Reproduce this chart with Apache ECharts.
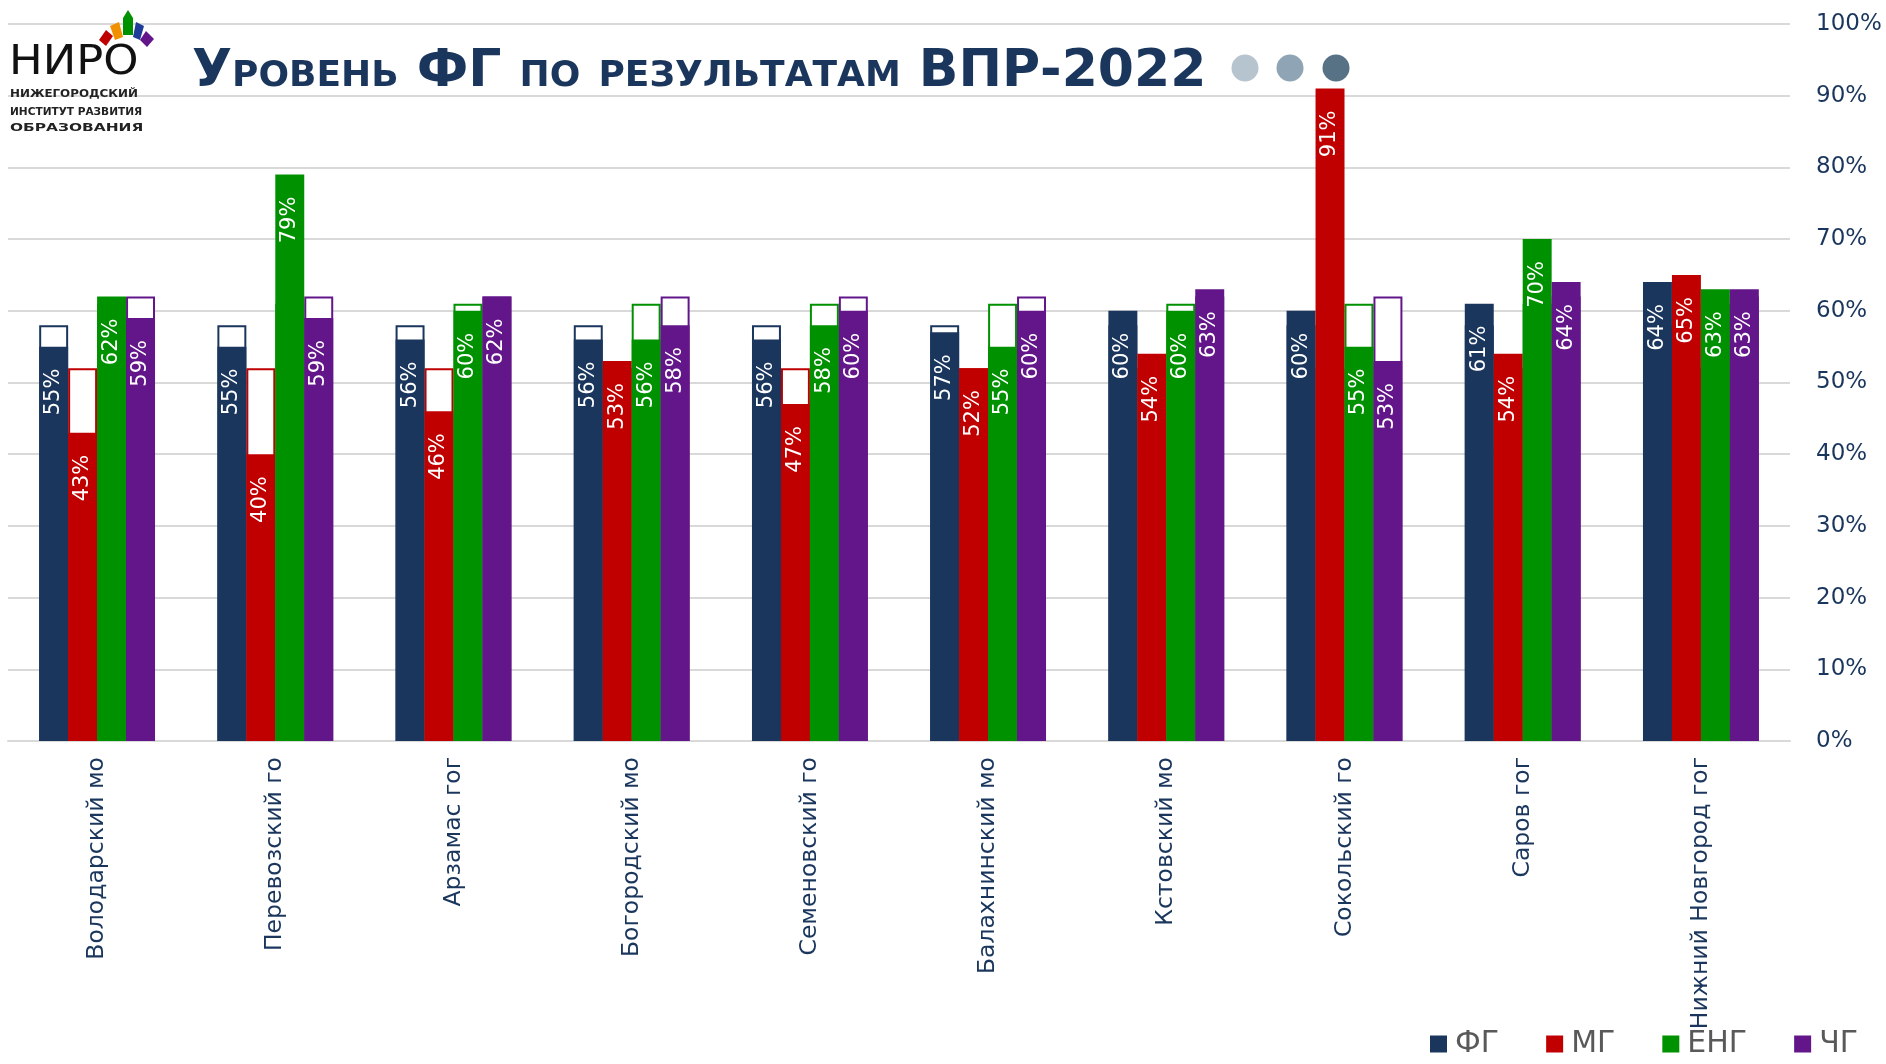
<!DOCTYPE html>
<html>
<head>
<meta charset="utf-8">
<title>Уровень ФГ по результатам ВПР-2022</title>
<script src="https://cdn.jsdelivr.net/npm/echarts@6/dist/echarts.min.js"></script>
<style>
  html, body { margin: 0; padding: 0; background: #fff; }
  #chart { width: 1886px; height: 1064px; }
</style>
</head>
<body>
<div id="chart"></div>
<script>
// municipalities on the x axis
const categories = [
  "Володарский мо",
  "Перевозский го",
  "Арзамас гог",
  "Богородский мо",
  "Семеновский го",
  "Балахнинский мо",
  "Кстовский мо",
  "Сокольский го",
  "Саров гог",
  "Нижний Новгород гог",
];

const seriesNames = ["ФГ", "МГ", "ЕНГ", "ЧГ"];

// results per municipality, %
const fgValues = [55, 55, 56, 56, 56, 57, 60, 60, 61, 64];
const mgValues = [43, 40, 46, 53, 47, 52, 54, 91, 54, 65];
const engValues = [62, 79, 60, 56, 58, 55, 60, 55, 70, 63];
const chgValues = [59, 59, 62, 58, 60, 60, 63, 53, 64, 63];

// regional level for each subject (the hollow boxes), %
const regionLevel = [58, 52, 61, 62];

const colors = ["#1a365d", "#c00000", "#009100", "#631689"];
const navy = "#1a365d";

const allValues = [fgValues, mgValues, engValues, chgValues];

const chart = echarts.init(document.getElementById("chart"));

// hollow boxes: drawn on a hidden twin axis so they sit under the filled bars
const outlineSeries = seriesNames.map((name, i) => ({
  name: name + " (область)",
  type: "bar",
  xAxisIndex: 1,
  barGap: "0%",
  barCategoryGap: "35%",
  silent: true,
  z: 1,
  data: categories.map(() => regionLevel[i]),
  itemStyle: {
    color: "#ffffff",
    borderColor: colors[i],
    borderWidth: 2,
  },
}));

const valueSeries = seriesNames.map((name, i) => ({
  name: name,
  type: "bar",
  xAxisIndex: 0,
  barGap: "0%",
  barCategoryGap: "35%",
  z: 3,
  data: allValues[i],
  itemStyle: { color: colors[i] },
  label: {
    show: true,
    position: "insideTop",
    rotate: 90,
    align: "right",
    verticalAlign: "middle",
    distance: 22,
    color: "#ffffff",
    fontSize: 21,
    fontFamily: "DejaVu Sans",
    formatter: "{c}%",
  },
}));

// logo fan pieces above the "О"
const fan = [
  { c: "#c00000", pts: [[99, 40], [106, 30], [113, 36], [106, 46]] },
  { c: "#f29100", pts: [[110, 26], [119, 22], [123, 37], [115, 40]] },
  { c: "#009100", pts: [[123, 18], [128, 10], [133, 18], [133, 35], [123, 35]] },
  { c: "#1f3c99", pts: [[136, 22], [144, 26], [140, 40], [133, 37]] },
  { c: "#631689", pts: [[146, 31], [154, 39], [147, 47], [140, 40]] },
];

const option = {
  backgroundColor: "#ffffff",
  animation: false,
  textStyle: { fontFamily: "DejaVu Sans" },
  grid: {
    left: 8,
    right: 96,
    top: 24,
    bottom: 323,
    containLabel: false,
  },
  legend: {
    data: seriesNames,
    right: 28,
    bottom: 5,
    padding: 0,
    icon: "rect",
    itemWidth: 17,
    itemHeight: 17,
    itemGap: 47,
    textStyle: {
      color: "#595959",
      fontSize: 30,
      fontFamily: "DejaVu Sans",
      padding: [0, 0, 0, 3],
    },
  },
  xAxis: [
    {
      type: "category",
      data: categories,
      axisLine: { lineStyle: { color: "#d9d9d9", width: 2 } },
      axisTick: { show: false },
      axisLabel: {
        interval: 0,
        rotate: 90,
        margin: 16,
        color: navy,
        fontSize: 23.5,
        fontFamily: "DejaVu Sans",
      },
    },
    {
      type: "category",
      data: categories,
      show: false,
    },
  ],
  yAxis: {
    type: "value",
    position: "right",
    min: 0,
    max: 100,
    interval: 10,
    axisLine: { show: false },
    axisTick: { show: false },
    axisLabel: {
      formatter: "{value}%",
      color: navy,
      fontSize: 23,
      margin: 26,
      fontFamily: "DejaVu Sans",
    },
    splitLine: { lineStyle: { color: "#d9d9d9", width: 2 } },
  },
  graphic: [
    // title, small caps like the slide
    {
      type: "text",
      left: 192,
      top: 46,
      z: 10,
      style: {
        text: "Уровень ФГ по результатам ВПР-2022",
        font: 'normal small-caps bold 52px "DejaVu Sans"',
        fill: navy,
      },
    },
    { type: "circle", z: 10, shape: { cx: 1245, cy: 68, r: 13.5 }, style: { fill: "#b6c4d0" } },
    { type: "circle", z: 10, shape: { cx: 1290, cy: 68, r: 13.5 }, style: { fill: "#8fa5b5" } },
    { type: "circle", z: 10, shape: { cx: 1336, cy: 68, r: 13.5 }, style: { fill: "#587285" } },
    // logo
    {
      type: "text",
      x: 9,
      y: 44,
      scaleX: 1.12,
      z: 10,
      style: { text: "НИРО", font: '40px "DejaVu Sans"', fill: "#111111" },
    },
    ...fan.map((p) => ({
      type: "polygon",
      z: 10,
      shape: { points: p.pts },
      style: { fill: p.c },
    })),
    {
      type: "text",
      x: 10,
      y: 89,
      scaleX: 1.08,
      z: 10,
      style: { text: "НИЖЕГОРОДСКИЙ", font: 'bold 11px "DejaVu Sans"', fill: "#222222" },
    },
    {
      type: "text",
      x: 10,
      y: 107,
      scaleX: 0.96,
      z: 10,
      style: { text: "ИНСТИТУТ РАЗВИТИЯ", font: 'bold 11px "DejaVu Sans"', fill: "#222222" },
    },
    {
      type: "text",
      x: 10,
      y: 123,
      scaleX: 1.4,
      z: 10,
      style: { text: "ОБРАЗОВАНИЯ", font: 'bold 11px "DejaVu Sans"', fill: "#222222" },
    },
  ],
  series: [...outlineSeries, ...valueSeries],
};

chart.setOption(option);
</script>
</body>
</html>
